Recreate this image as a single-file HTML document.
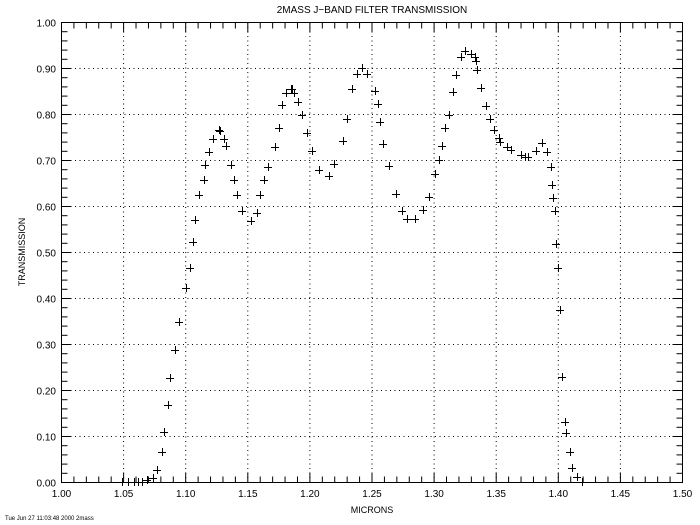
<!DOCTYPE html>
<html><head><style>
html,body{margin:0;padding:0;background:#fff;}
svg{display:block;}
text{font-family:"Liberation Sans",sans-serif;fill:#000;}
</style></head><body>
<svg width="700" height="525" xmlns="http://www.w3.org/2000/svg">
<rect width="700" height="525" fill="#fff"/>
<g id="grid" stroke="#000" stroke-width="1" stroke-dasharray="1,3.5" fill="none"></g>
<rect x="61.5" y="22.5" width="621" height="460" fill="none" stroke="#000" stroke-width="1"/>
<g id="ticks" stroke="#000" stroke-width="1"></g>
<g id="labels" font-size="10"></g>
<g id="pts" stroke="#000" stroke-width="1"></g>
<text x="372" y="13" font-size="10" text-anchor="middle">2MASS J−BAND FILTER TRANSMISSION</text>
<text x="372" y="513" font-size="9" text-anchor="middle">MICRONS</text>
<text x="0" y="0" font-size="9" text-anchor="middle" transform="translate(25,252) rotate(-90)">TRANSMISSION</text>
<text x="5" y="520" font-size="6">Tue Jun 27 11:03:48 2000 2mass</text>
</svg>
<script>
const ns="http://www.w3.org/2000/svg";
const X0=61.5,X1=682.5,Y0=482.5,Y1=22.5;
const g=document.getElementById('grid'),t=document.getElementById('ticks'),l=document.getElementById('labels'),p=document.getElementById('pts');
function ln(par,x1,y1,x2,y2){const e=document.createElementNS(ns,'line');e.setAttribute('x1',x1);e.setAttribute('y1',y1);e.setAttribute('x2',x2);e.setAttribute('y2',y2);par.appendChild(e);}
function tx(s,x,y,a){const e=document.createElementNS(ns,'text');e.setAttribute('x',x);e.setAttribute('y',y);e.setAttribute('text-anchor',a);e.textContent=s;l.appendChild(e);}
for(let i=0;i<=50;i++){const x=X0+(X1-X0)*i/50;const maj=i%5==0;
 if(maj&&i>0&&i<50)ln(g,x,Y1,x,Y0);
 const L=maj?10:6; ln(t,x,Y0,x,Y0-L); ln(t,x,Y1,x,Y1+L);
 if(maj)tx((1+i/100).toFixed(2),x,497,'middle');}
for(let i=0;i<=50;i++){const y=Y0-(Y0-Y1)*i/50;const maj=i%5==0;
 if(maj&&i>0&&i<50)ln(g,X0,y,X1,y);
 const L=maj?10:6; ln(t,X0,y,X0+L,y); ln(t,X1,y,X1-L,y);
 if(maj)tx((i/50).toFixed(2),56,y+4,'end');}
const P=[[122,482],[128,482],[134,482],[138,482],[142,482],[147,480],[153,478],[157,470],[162,452],[164,432],[168,405],[170,378],[175,350],[179,322],[186,288],[190,268],[193,242],[195,220],[199,195],[204,180],[205,165],[209,152],[213,139],[219,130],[220,131],[224,139],[226,146],[231,165],[234,180],[237,195],[242,211],[251,221],[257,213],[260,195],[264,180],[268,167],[275,147],[279,128],[282,105],[286,93],[291,89],[292,89],[294,93],[298,102],[302,115],[307,133],[312,151],[319,170],[329,176],[334,164],[343,141],[347,119],[352,89],[357,74],[362,68],[367,74],[375,91],[378,104],[380,122],[383,144],[389,166],[396,194],[402,211],[407,219],[415,219],[423,210],[429,197],[435,174],[439,160],[442,146],[445,128],[449,115],[453,92],[456,75],[461,57],[465,51],[471,54],[475,57],[476,61],[477,70],[481,88],[486,106],[490,119],[494,130],[499,138],[500,142],[507,147],[511,150],[521,155],[525,157],[528,157],[536,151],[542,143],[547,152],[551,167],[552,185],[553,198],[555,211],[556,244],[558,268],[560,310],[562,377],[565,422],[566,433],[570,452],[572,468],[577,477],[582,482]];
for(const [x,y] of P){ln(p,x-4,y+0.5,x+4,y+0.5);ln(p,x+0.5,y-4,x+0.5,y+4);}
</script>
</body></html>
